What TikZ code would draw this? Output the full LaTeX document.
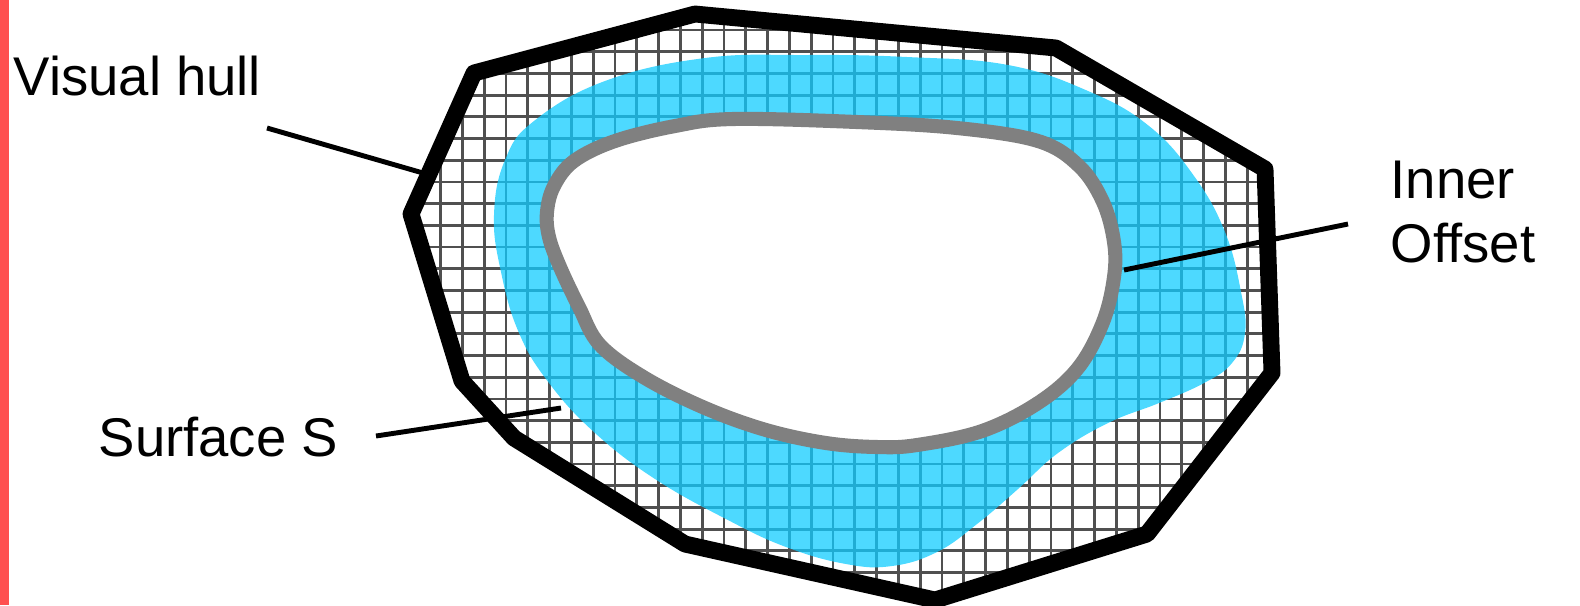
\documentclass[tikz,border=0pt]{standalone}
\usepackage{fontspec}
\setmainfont{Liberation Sans}
\usepackage{xcolor}
\definecolor{Coral}{HTML}{FF4F4F}
\definecolor{Sky}{HTML}{11CCFF}
\definecolor{GridGray}{HTML}{505050}
\definecolor{RimGray}{HTML}{808080}
\begin{document}
\begin{tikzpicture}[x=0.01cm,y=-0.01cm,
    lbl/.style={anchor=base west,inner sep=0pt,font=\fontsize{15.5}{18}\selectfont},
    leader/.style={line width=1.4pt},
    hull/.style={line width=4.8pt,line join=round}]
  \useasboundingbox (0,0) rectangle (1580,605);
  \fill[Coral] (0,0) rectangle (9,605);
  % voxel grid, clipped to the hull
  \begin{scope}
    \clip (695,14) -- (1056,48) -- (1265,169) -- (1272,373) -- (1147,534) -- (935,600)
      -- (685,544) -- (514,438) -- (462,381) -- (411,214) -- (474,73) -- cycle;
    \foreach \i in {0,...,41}
      \draw[GridGray,line width=0.8pt] (397+\i*21.8,0) -- (397+\i*21.8,620);
    \foreach \j in {0,...,29}
      \draw[GridGray,line width=0.8pt] (390,-13.4+\j*21.7) -- (1290,-13.4+\j*21.7);
  \end{scope}
  % surface S
  \fill[Sky,opacity=0.75] plot[smooth cycle,tension=0.7] coordinates {
    (494,215) (505,160) (534,121) (605,81) (705,58) (806,55) (907,57) (1008,65)
    (1088,91) (1149,126) (1194,176) (1225,232) (1241,292) (1245,333) (1232,363)
    (1204,383) (1159,403) (1108,423) (1058,453) (1018,489) (977,524) (937,552)
    (892,566) (846,564) (786,547) (726,519) (655,479) (595,433) (549,383)
    (519,333) (501,272)};
  % inner offset
  \filldraw[fill=white,draw=RimGray,line width=4pt] plot[smooth cycle,tension=0.6] coordinates {
    (733,119) (857,122) (957,128) (1038,141) (1079,166) (1103,202) (1114,242)
    (1114,277) (1103,322) (1078,368) (1038,403) (982,431) (917,445) (877,447)
    (826,443) (766,430) (705,408) (645,378) (600,345) (579,307) (560,267)
    (549,237) (547,212) (554,186) (574,161) (615,141) (675,126)};
  % visual hull
  \draw[hull] (695,14) -- (1056,48) -- (1265,169) -- (1272,373) -- (1147,534) -- (935,600)
    -- (685,544) -- (514,438) -- (462,381) -- (411,214) -- (474,73) -- cycle;

  \node[lbl] (vishull) at (13,95) {Visual hull};
  \node[lbl] (surface) at (98,456) {Surface S};
  \node[lbl] (inner) at (1390,198) {Inner};
  \node[lbl] (offset) at ([yshift=-18.2pt]inner.base west) {Offset};
  \coordinate (hullpt) at (423,173);
  \coordinate (surfpt) at (561,408);
  \coordinate (offpt) at (1124,270);
  \draw[leader] ([shift={(254,33)}]vishull.base west) -- (hullpt);
  \draw[leader] ([shift={(278,-20)}]surface.base west) -- (surfpt);
  \draw[leader] ([shift={(-42,-38)}]offset.base west) -- (offpt);
\end{tikzpicture}
\end{document}
